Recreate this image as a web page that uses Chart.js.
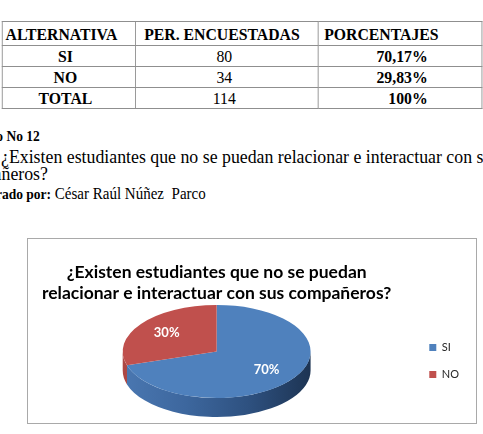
<!DOCTYPE html>
<html>
<head>
<meta charset="utf-8">
<script src="https://cdn.jsdelivr.net/npm/chart.js@4.4.1/dist/chart.umd.min.js"></script>
<style>
  html, body { margin: 0; padding: 0; background: #fff; }
  body { width: 483px; height: 434px; overflow: hidden; position: relative; }
  /* the scanned page is a bit narrow, so the document part is squeezed */
  #doc { position: absolute; left: 0; top: 0; width: 600px; height: 220px; transform: scaleX(0.9); transform-origin: 0 0;
         font-family: "Liberation Serif", "Times New Roman", serif; color: #000; }
  #tabla { position: absolute; left: 2.2px; top: 21px; border-collapse: collapse; table-layout: fixed; }
  #tabla td { border: 1px solid #8f8f8f; padding: 0; font-size: 17.5px; white-space: nowrap; line-height: 18px; }
  #tabla tr.head td { font-weight: bold; text-align: left; height: 23px; }
  #tabla tr.body td { height: 20px; }
  .c1 { text-align: center; padding-right: 8px !important; }
  .c2 { text-align: center; padding-right: 6px !important; }
  .c3 { text-align: right; font-weight: bold; padding-right: 60px !important; }
  .ln { position: absolute; white-space: nowrap; font-size: 16.7px; line-height: 16.7px; }
  .q { font-size: 19.8px; line-height: 19.8px; }
  .b { font-weight: bold; }
  #box { position: absolute; left: 27px; top: 238px; width: 448px; height: 184px; border: 1px solid #a9a9a9; }
  #grafico { position: absolute; left: 20px; top: 239px; }
</style>
</head>
<body>
<div id="doc">
  <table id="tabla">
    <colgroup><col style="width:148px"><col style="width:203px"><col style="width:182px"></colgroup>
    <tbody id="filas"></tbody>
  </table>
  <!-- data-x: where the visible part starts; the part before it runs off the page -->
  <div class="ln b" data-x="-3.8" style="top:129px; font-size:15px; line-height:15px;"><span class="hid">Gráfic</span>o No 12</div>
  <div class="ln q" data-x="1.1" style="top:146.7px;">¿Existen estudiantes que no se puedan relacionar e interactuar con sus</div>
  <div class="ln q" data-x="1.9" style="top:164.4px;"><span class="hid">compa</span>ñeros?</div>
  <div class="ln" data-x="1.9" style="top:186px;"><span class="b" style="font-size:15px;"><span class="hid">Elabor</span>ado por:</span> César Raúl Núñez&nbsp; Parco</div>
</div>
<div id="box"></div>
<canvas id="grafico" width="456" height="184"></canvas>

<script>
// Data

const encabezados = ['ALTERNATIVA', 'PER. ENCUESTADAS', 'PORCENTAJES'];
const alternativas = ['SI', 'NO'];
const encuestadas = [80, 34];
const porcentajes = ['70,17%', '29,83%'];
const totalFila = ['TOTAL', 114, '100%'];

const tituloGrafico = ['¿Existen estudiantes que no se puedan', 'relacionar e interactuar con sus compañeros?'];
const colores = ['#4f81bd', '#c0504d'];
const coloresLado = [
    ['#4a77b1', '#3d679e', '#2e5180', '#1d3453'],
    ['#ad4744', '#a0403d', '#8a3532', '#6e2927']
];

// Table

const filas = document.getElementById('filas');
let html = '<tr class="head">' + encabezados.map((h, i) => {
    const pad = [3, 9, 6][i];
    return `<td style="padding-left:${pad}px">${h}</td>`;
}).join('') + '</tr>';
alternativas.forEach((a, i) => {
    html += `<tr class="body"><td class="c1 b">${a}</td><td class="c2">${encuestadas[i]}</td><td class="c3">${porcentajes[i]}</td></tr>`;
});
html += `<tr class="body"><td class="c1 b">${totalFila[0]}</td><td class="c2">${totalFila[1]}</td><td class="c3">${totalFila[2]}</td></tr>`;
filas.innerHTML = html;

// text lines cut by the left page edge
document.querySelectorAll('.ln').forEach((ln) => {
    const hid = ln.querySelector('.hid');
    const w = hid ? hid.offsetWidth : 0;
    ln.style.left = (parseFloat(ln.dataset.x) - w) + 'px';
});

// 3D look for the pie: side wall + squashed top face

const pie3d = {
    id: 'pie3d',
    beforeDatasetsDraw(chart, args, opts) {
        const meta = chart.getDatasetMeta(0);
        const area = chart.chartArea;
        const first = meta.data[0];
        const r = first.outerRadius;
        const depth = area.height * opts.depth;
        const ry = (area.height - depth) / 2;
        const rx = ry / opts.tilt;
        const cx = first.x;
        const cy = area.top + ry;
        chart.$pie3d = { cx, cy, rx, ry };

        const ctx = chart.ctx;
        meta.data.forEach((arc, i) => {
            // only the front half of the wall is seen
            const a1 = Math.max(arc.startAngle, 0);
            const a2 = Math.min(arc.endAngle, Math.PI);
            if (a2 <= a1) return;
            const g = ctx.createLinearGradient(cx - rx, 0, cx + rx, 0);
            const stops = opts.sides[i];
            stops.forEach((c, k) => g.addColorStop(k / (stops.length - 1), c));
            ctx.beginPath();
            ctx.ellipse(cx, cy, rx, ry, 0, a1, a2);
            ctx.ellipse(cx, cy + depth, rx, ry, 0, a2, a1, true);
            ctx.closePath();
            ctx.fillStyle = g;
            ctx.fill();
        });

        ctx.save();
        ctx.translate(cx, cy);
        ctx.scale(rx / r, ry / r);
        ctx.translate(-first.x, -first.y);
    },
    afterDatasetsDraw(chart, args, opts) {
        const ctx = chart.ctx;
        ctx.restore();

        const { cx, cy, rx, ry } = chart.$pie3d;
        const meta = chart.getDatasetMeta(0);
        const data = chart.data.datasets[0].data;
        const total = data.reduce((a, b) => a + b, 0);
        ctx.save();
        ctx.font = 'bold 13px Lato';
        ctx.fillStyle = '#fff';
        ctx.textAlign = 'center';
        ctx.textBaseline = 'middle';
        meta.data.forEach((arc, i) => {
            const mid = (arc.startAngle + arc.endAngle) / 2;
            const x = cx + Math.cos(mid) * rx * opts.labelPos;
            const y = cy + Math.sin(mid) * ry * opts.labelPos;
            ctx.fillText(Math.round(data[i] / total * 100) + '%', x, y);
        });
        ctx.restore();
    }
};

const grafico_ctx = document.getElementById('grafico').getContext('2d');
const grafico = new Chart(grafico_ctx, {
    type: 'pie',
    data: {
        labels: alternativas,
        datasets: [{
            data: encuestadas,
            backgroundColor: colores,
            borderWidth: 0,
            clip: false
        }]
    },
    options: {
        responsive: false,
        animation: false,
        events: [],
        layout: {
            padding: { top: 0, right: 7, bottom: 6, left: 0 }
        },
        plugins: {
            title: {
                display: true,
                text: tituloGrafico,
                fullSize: false,
                color: '#000',
                font: { family: 'Lato', size: 17.5, weight: 'bold', lineHeight: 1.17 },
                padding: { top: 23.25, bottom: 1.75 }
            },
            legend: {
                position: 'right',
                fullSize: false,
                labels: {
                    boxWidth: 7,
                    boxHeight: 7,
                    padding: 16,
                    color: '#262626',
                    font: { family: 'Lato', size: 11 }
                }
            },
            tooltip: { enabled: false },
            pie3d: {
                tilt: 0.495,
                depth: 0.17,
                labelPos: 0.66,
                sides: coloresLado
            }
        }
    },
    plugins: [pie3d]
});
</script>
</body>
</html>
